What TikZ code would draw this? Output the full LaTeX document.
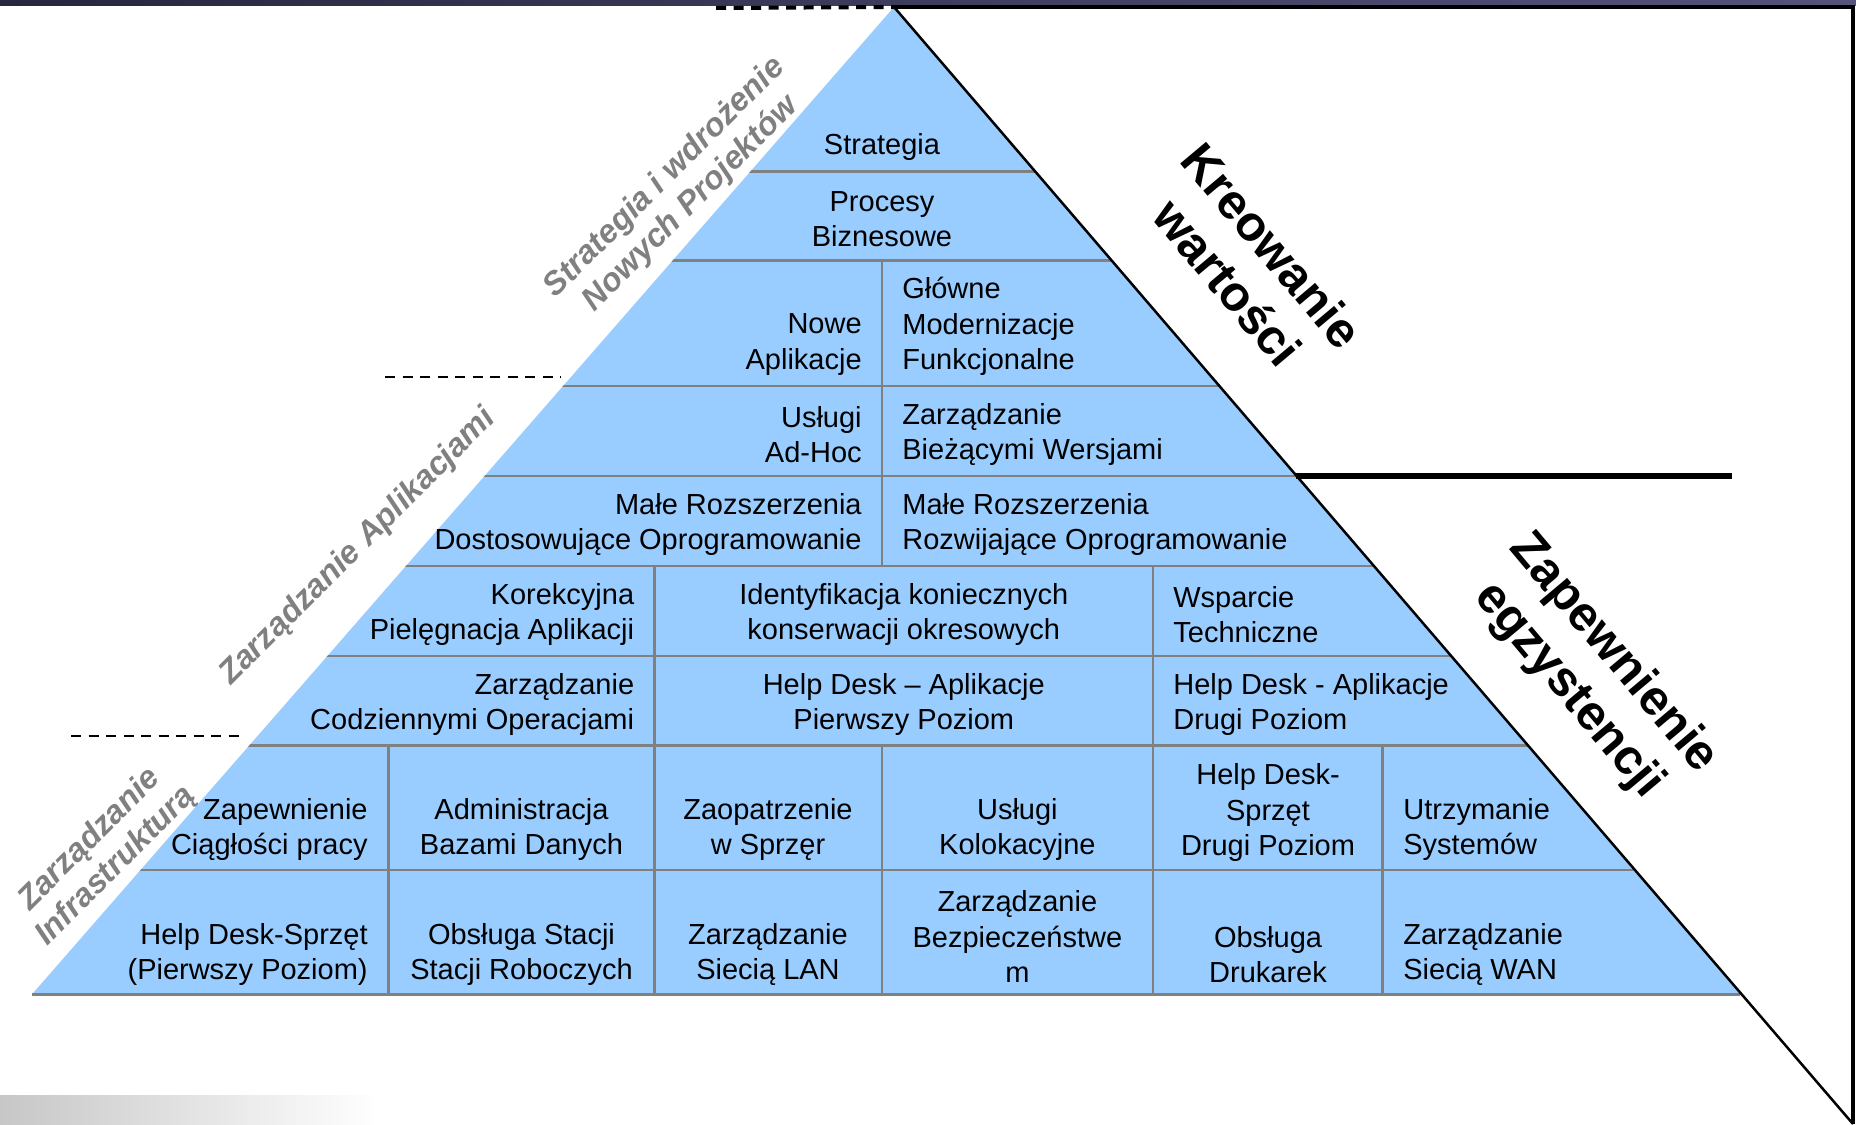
\documentclass[tikz,border=0pt]{standalone}
\usepackage{fontspec}
\setmainfont{Liberation Sans}
\definecolor{pyrblue}{RGB}{153,204,255}
\definecolor{sidegray}{RGB}{128,128,128}
\definecolor{barleft}{RGB}{38,38,62}
\definecolor{barright}{RGB}{84,84,124}

\begin{document}
\begin{tikzpicture}[x=0.2mm,y=0.2mm,
	cell/.style={align=center,inner sep=0pt,yshift=-0.5mm,font=\fontsize{16.5}{20.2}\selectfont},
	cellL/.style={cell,align=left,anchor=west},
	cellR/.style={cell,align=right,anchor=east},
	side/.style={align=center,inner sep=0pt,text=sidegray,rotate=45,font=\fontsize{18.5}{21}\selectfont\bfseries\itshape},
	zone/.style={align=center,inner sep=0pt,rotate=-50,font=\fontsize{28}{33}\selectfont\bfseries},
	gridline/.style={draw=sidegray,line width=0.5mm},
	level/.style={dash pattern=on 2mm off 1.5mm,line width=0.45mm}]
	\useasboundingbox (0,0) rectangle (1856,-1124);

	% slide decoration
	\shade[left color=barleft,right color=barright] (0,0) rectangle (1856,-5);
	\shade[left color=black!22,right color=white] (0,-1095) rectangle (380,-1124);

	\coordinate (apex) at (894,-7);
	\coordinate (bl) at (32,-994.3);
	\coordinate (br) at (1740,-994.3);
	\coordinate (tr) at (1853,-7);
	\coordinate (corner) at (1853,-1124);

	\fill[pyrblue] (apex) -- (bl) -- (br) -- cycle;
	\begin{scope}
		\clip (apex) -- (bl) -- (br) -- cycle;
		\foreach \y in {171.6,260.4,385.9,475.8,565.8,655.8,745.7,870} { \draw[gridline] (0,-\y) -- (1856,-\y);}
	\end{scope}
	\draw[gridline] (bl) -- (br);
	\foreach \x / \ya / \yb in {881.9/260.4/565.8,654.6/565.8/994.3,1152.9/565.8/994.3,388.3/745.7/994.3,881.9/745.7/994.3,1382.6/745.7/994.3} { \draw[gridline] (\x,-\ya) -- (\x,-\yb);}

	% frame on the right
	\draw[line width=0.5mm] (apex) -- (corner);
	\draw[line width=0.7mm] (apex) -- (tr) -- (corner);
	\draw[line width=1.2mm] (1296.4,-476) -- (1732,-476);

	% level marks
	\draw[level,line width=0.8mm] (716,-8) -- (apex);
	\draw[level] (385,-377) -- (561,-377);
	\draw[level] (71,-736) -- (246,-736);

	\node[cell] (strat) at (882,-144) {Strategia};
	\node[cell] (proc) at (882,-216.6) {Procesy\\Biznesowe};
	\node[cellR] (nowe) at (862,-342) {Nowe\\Aplikacje};
	\node[cellL] (glowne) at (902,-324) {Główne\\Modernizacje\\Funkcjonalne};
	\node[cellR] (adhoc) at (862,-432) {Usługi\\Ad-Hoc};
	\node[cellL] (wersje) at (902,-432) {Zarządzanie\\Bieżącymi Wersjami};
	\node[cellR] (dostos) at (862,-522) {Małe Rozszerzenia\\Dostosowujące Oprogramowanie};
	\node[cellL] (rozwij) at (902,-522) {Małe Rozszerzenia\\Rozwijające Oprogramowanie};
	\node[cellR] (korek) at (634.5,-612) {Korekcyjna\\Pielęgnacja Aplikacji};
	\node[cell] (ident) at (903.8,-612) {Identyfikacja koniecznych\\konserwacji okresowych};
	\node[cellL] (wspar) at (1173,-612) {Wsparcie\\Techniczne};
	\node[cellR] (codz) at (634.5,-702) {Zarządzanie\\Codziennymi Operacjami};
	\node[cell] (hdapp) at (903.8,-702) {Help Desk – Aplikacje\\Pierwszy Poziom};
	\node[cellL] (hdapp2) at (1173,-702) {Help Desk - Aplikacje\\Drugi Poziom};
	\node[cellR] (ciagl) at (368,-827) {Zapewnienie\\Ciągłości pracy};
	\node[cell] (bazy) at (521.5,-827) {Administracja\\Bazami Danych};
	\node[cell] (zaop) at (768,-827) {Zaopatrzenie\\w Sprzęr};
	\node[cell] (kolok) at (1017.4,-827) {Usługi\\Kolokacyjne};
	\node[cell] (hdsprz2) at (1268,-810) {Help Desk-\\Sprzęt\\Drugi Poziom};
	\node[cellL] (system) at (1403,-827) {Utrzymanie\\Systemów};
	\node[cellR] (hdsprz1) at (368,-952) {Help Desk-Sprzęt\\(Pierwszy Poziom)};
	\node[cell] (stacje) at (521.5,-952) {Obsługa Stacji\\Stacji Roboczych};
	\node[cell] (lan) at (768,-952) {Zarządzanie\\Siecią LAN};
	\node[cell] (bezp) at (1017.4,-934) {Zarządzanie\\Bezpieczeństwe\\m};
	\node[cell] (druk) at (1268,-952) {Obsługa\\Drukarek};
	\node[cellL] (wan) at (1403,-952) {Zarządzanie\\Siecią WAN};

	\node[side] (projekty) at (678,-191) {Strategia i wdrożenie\\Nowych Projektów};
	\node[side] (aplik) at (358,-547) {Zarządzanie Aplikacjami};
	\node[side] (infra) at (103,-853) {Zarządzanie\\Infrastrukturą};

	\node[zone] (kreow) at (1250,-264) {Kreowanie\\wartości};
	\node[zone] (egzyst) at (1591,-672) {Zapewnienie\\egzystencji};
\end{tikzpicture}
\end{document}
